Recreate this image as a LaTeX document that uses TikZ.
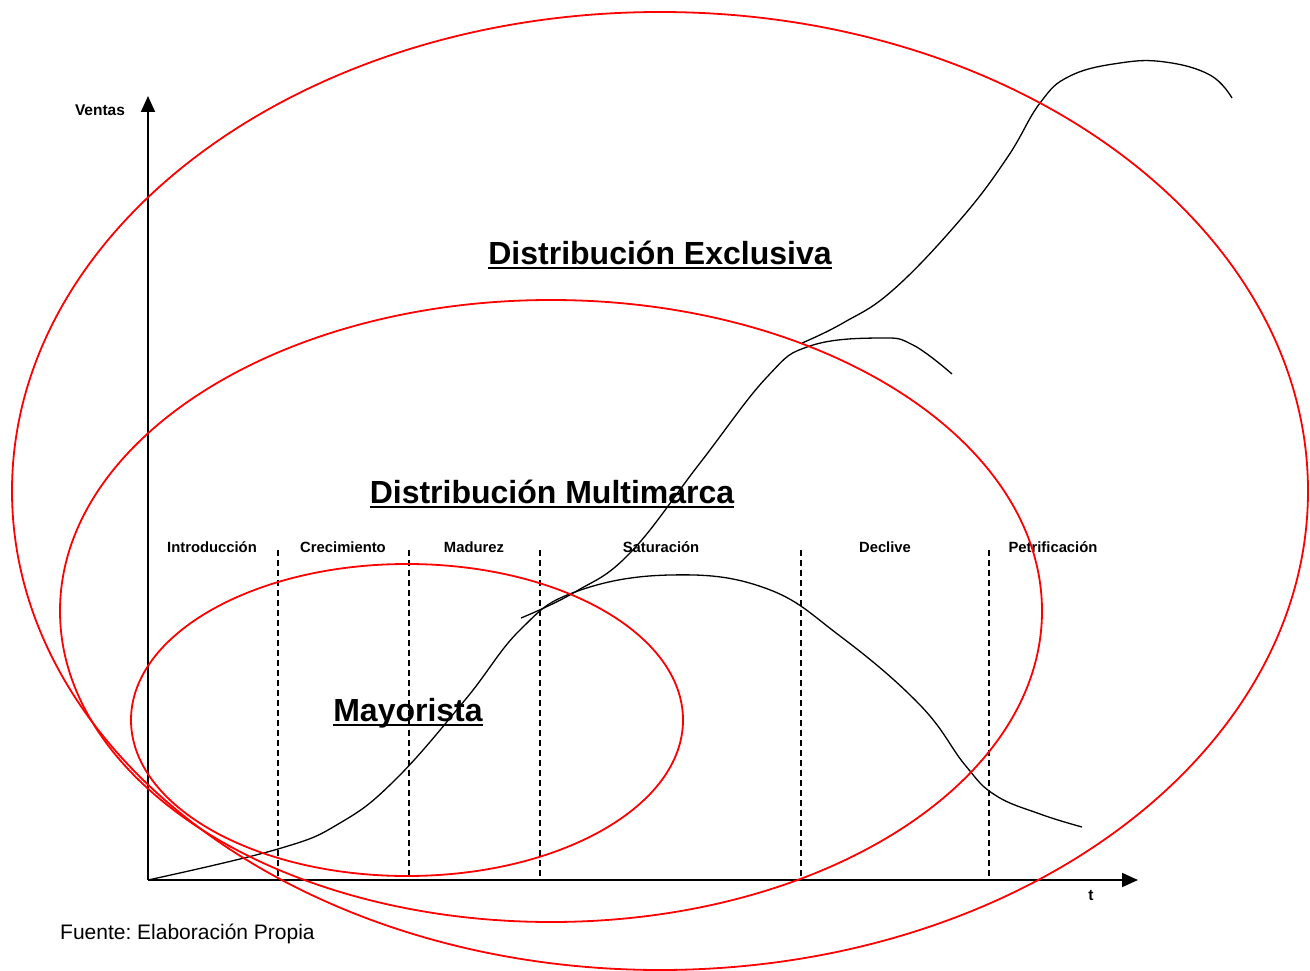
\documentclass[tikz,border=0pt]{standalone}
\usepackage{fontspec}
\setmainfont{Liberation Sans}
\usetikzlibrary{arrows.meta}
\frenchspacing
\begin{document}
\begin{tikzpicture}[x=1pt,y=-1pt,
  ell/.style={draw=red, line width=1.8pt},
  axisline/.style={line width=1.8pt, -{Triangle[length=16pt,width=14pt]}},
  phaseline/.style={line width=1.4pt, dash pattern=on 6pt off 4pt},
  salescurve/.style={line width=1.3pt, smooth, tension=0.7},
  titletext/.style={font=\bfseries\fontsize{32}{36}\selectfont, anchor=base, inner sep=0pt},
  phasetext/.style={font=\bfseries\fontsize{14.8}{17}\selectfont, anchor=base, inner sep=0pt},
  uline/.style={line width=2.6pt}]
\useasboundingbox (0,0) rectangle (1310,971);
% titles
\node[titletext] (ex) at (660,264) {Distribución Exclusiva};
\node[titletext] (mm) at (552,503) {Distribución Multimarca};
\node[titletext] (my) at (408,721) {Mayorista};
\foreach \n in {ex,mm,my}
  \draw[uline] ([yshift=-4pt]\n.base west) -- ([yshift=-4pt]\n.base east);
% phase labels
\node[phasetext] (p1) at (212,552) {Introducción};
\node[phasetext] (p2) at (343,552) {Crecimiento};
\node[phasetext] (p3) at (474,552) {Madurez};
\node[phasetext] (p4) at (661,552) {Saturación};
\node[phasetext] (p5) at (885,552) {Declive};
\node[phasetext] (p6) at (1053,552) {Petrificación};
% axis labels
\node[phasetext, font=\bfseries\fontsize{15.5}{17}\selectfont] (yl) at (100,116) {Ventas};
\node[phasetext, font=\bfseries\fontsize{15.5}{17}\selectfont] (xl) at (1091,900) {t};
\node[anchor=base west, inner sep=0pt, font=\fontsize{21}{24}\selectfont] (src) at (60,939) {Fuente: Elaboración Propia};
% axes
\coordinate (O) at (148,880);
\coordinate (ytop) at (148,96);
\coordinate (xend) at (1138,880);
\draw[axisline] (O) -- (ytop);
\draw[axisline] (O) -- (xend);
% phase separators
\foreach \i/\x in {1/278,2/409,3/540,4/801,5/989}{
  \coordinate (dt\i) at (\x,550);
  \coordinate (db\i) at (\x,880);
  \draw[phaseline] (dt\i) -- (db\i);
}
% sales curves
\draw[salescurve] plot coordinates {(148,880) (278,849) (340,823) (395,780) (465,700) (520,630) (575,592) (670,575) (765,588) (840,636) (920,705) (965,765) (995,795) (1040,814) (1082,827)};
\draw[salescurve] plot coordinates {(521,618) (575,592) (630,553) (700,463) (767,377) (810,346) (880,338) (913,345) (952,374)};
\draw[salescurve] plot coordinates {(802,343) (843,323) (893,290) (960,220) (1007,158) (1040,103) (1070,76) (1120,63) (1165,62) (1210,75) (1232,98)};
% ellipses
\node[coordinate] (c1) at (660,491) {};
\node[coordinate] (c2) at (551,611) {};
\node[coordinate] (c3) at (407,720) {};
\draw[ell] (c1) ellipse [x radius=648, y radius=479];
\draw[ell] (c2) ellipse [x radius=491, y radius=311];
\draw[ell] (c3) ellipse [x radius=276, y radius=156];
\end{tikzpicture}
\end{document}
